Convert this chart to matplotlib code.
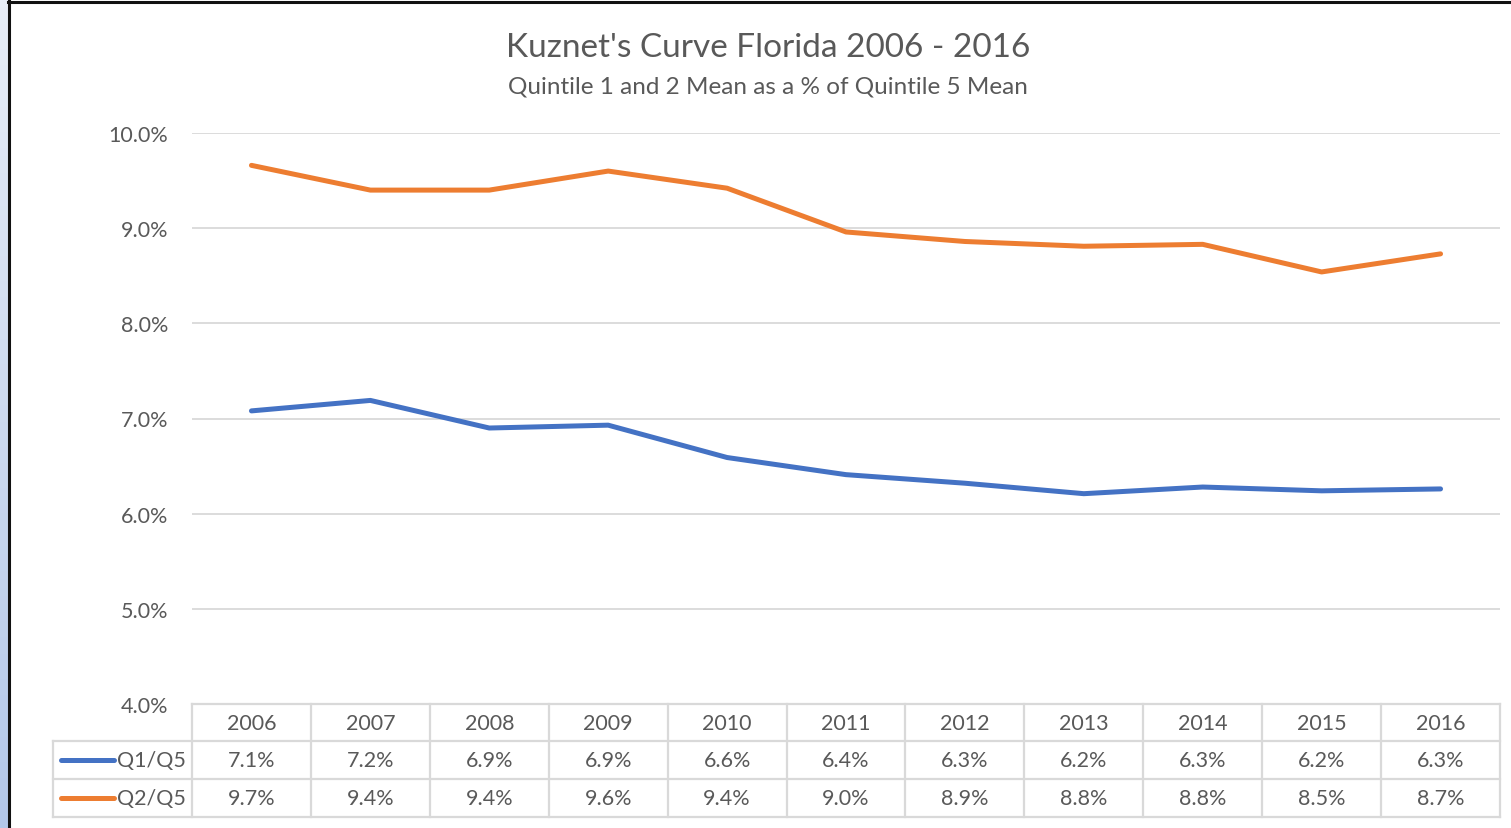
import matplotlib.pyplot as plt
import numpy as np

years = ['2006', '2007', '2008', '2009', '2010', '2011', '2012', '2013', '2014', '2015', '2016']
q1_q5 = [7.08, 7.19, 6.90, 6.93, 6.59, 6.41, 6.32, 6.21, 6.28, 6.24, 6.26]
q2_q5 = [9.66, 9.40, 9.40, 9.60, 9.42, 8.96, 8.86, 8.81, 8.83, 8.54, 8.73]
series_names = ['Q1/Q5', 'Q2/Q5']
yticks = [4, 5, 6, 7, 8, 9, 10]

plt.rcParams['font.family'] = ['Lato', 'DejaVu Sans']
txt = '#595959'
grid_c = '#d9d9d9'
colors = ['#4472C4', '#ED7D31']
fs = 15.5

W, H = 1511, 829
fig = plt.figure(figsize=(W / 100, H / 100), dpi=100)

# light blue strip on the left edge
strip = fig.add_axes([0, 0, 8 / W, 1])
strip.imshow(np.linspace(0, 1, 100).reshape(-1, 1), cmap=plt.matplotlib.colors.LinearSegmentedColormap.from_list('s', ['#e8eef8', '#b3c7e8']),
             aspect='auto', extent=[0, 1, 0, 1])
strip.axis('off')

# chart border (black)
fig.add_artist(plt.Line2D([8.5 / W, 8.5 / W], [0, 1 - 1 / H], color='#111111', lw=2.2))
fig.add_artist(plt.Line2D([8 / W, 1], [1 - 2.5 / H, 1 - 2.5 / H], color='#111111', lw=2.2))

x0, x1, ytop, ybot = 192, 1500, 134, 705
ax = fig.add_axes([x0 / W, 1 - ybot / H, (x1 - x0) / W, (ybot - ytop) / H])
x = np.arange(len(years))
for vals, c, n in zip([q1_q5, q2_q5], colors, series_names):
    ax.plot(x, vals, color=c, lw=3.6, solid_capstyle='round', label=n)

ax.set_xlim(-0.5, len(years) - 0.5)
ax.set_ylim(4, 10)
ax.set_yticks(yticks)
ax.set_yticklabels([f'{v:.1f}%' for v in yticks])
ax.tick_params(axis='y', length=0, pad=17, labelsize=fs, labelcolor=txt)
ax.set_xticks([])
ax.grid(axis='y', color=grid_c, lw=1.3)
ax.set_axisbelow(True)
for s in ax.spines.values():
    s.set_visible(False)

# data table below the plot
row_h = ybot - ytop
def ay(ypx):
    return (ybot - ypx) / row_h
tr = ax.get_xaxis_transform()
n = len(years)
unit = (x1 - x0) / n
left_col = -0.5 - (x0 - 53) / unit
tbl_kw = dict(color=grid_c, lw=1.6, transform=tr, clip_on=False)
ax.plot([-0.5, n - 0.5], [0, 0], **tbl_kw)
for yl in [742, 780, 818]:
    ax.plot([left_col, n - 0.5], [ay(yl), ay(yl)], **tbl_kw)
for i in range(n + 1):
    ax.plot([i - 0.5, i - 0.5], [0, ay(818)], **tbl_kw)
ax.plot([left_col, left_col], [ay(742), ay(818)], **tbl_kw)

for i, yr in enumerate(years):
    ax.text(i, ay(724), yr, transform=tr, ha='center', va='center', fontsize=fs, color=txt, clip_on=False)
    for vals, yc in zip([q1_q5, q2_q5], [761, 799]):
        ax.text(i, ay(yc), f'{vals[i]:.1f}%', transform=tr, ha='center', va='center', fontsize=fs, color=txt, clip_on=False)

for name, c, yc in zip(series_names, colors, [761, 799]):
    ax.plot([-0.5 - (x0 - 61) / unit, -0.5 - (x0 - 114) / unit], [ay(yc), ay(yc)], color=c, lw=3.6,
            solid_capstyle='round', transform=tr, clip_on=False)
    ax.text(-0.5 - (x0 - 117) / unit, ay(yc), name, transform=tr, ha='left', va='center', fontsize=fs,
            color=txt, clip_on=False)

fig.text(768 / W, 1 - 48 / H, "Kuznet's Curve Florida 2006 - 2016", ha='center', va='center', fontsize=24, color=txt)
fig.text(768 / W, 1 - 87 / H, 'Quintile 1 and 2 Mean as a % of Quintile 5 Mean', ha='center', va='center', fontsize=17.5, color=txt)

fig.savefig('out.png', dpi=100)
